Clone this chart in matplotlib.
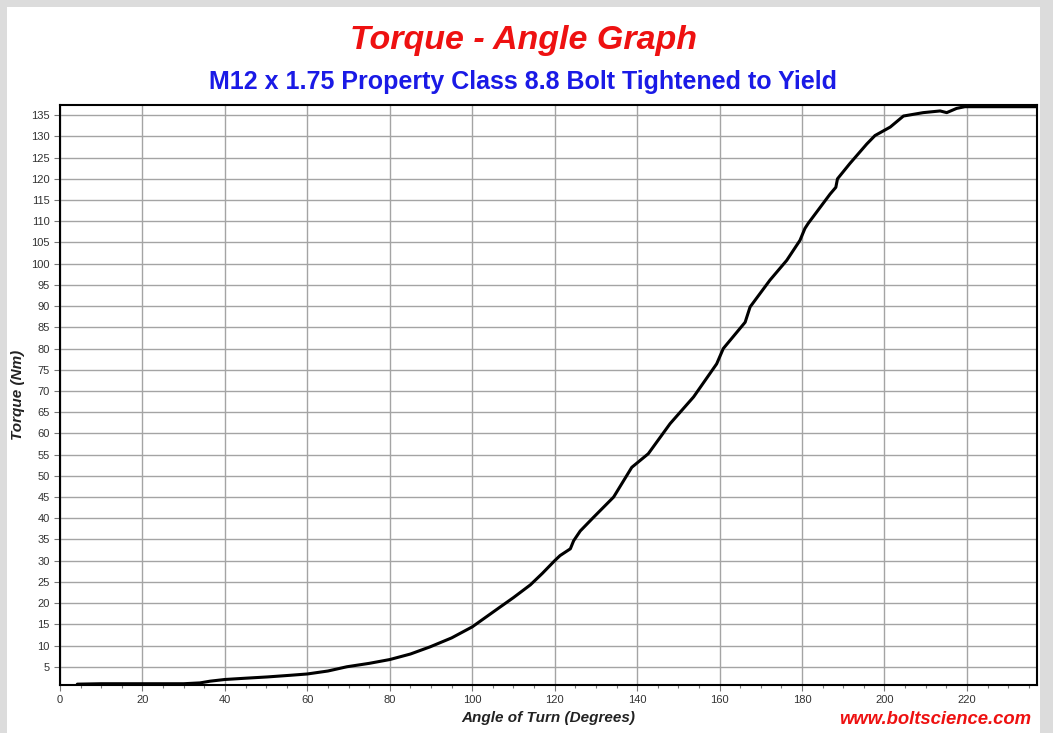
import matplotlib
matplotlib.use("Agg")
import matplotlib.pyplot as plt
from matplotlib.ticker import MultipleLocator
from matplotlib.patches import Rectangle

angle = [4.2, 10, 20, 30, 34, 36.4, 40, 45, 50.3, 56, 60, 65, 69.6, 75, 80, 85,
         89.8, 95, 100, 106.8, 110, 114.1, 117, 120, 121.3, 123.8, 124.6, 126.2,
         129.4, 134.3, 138.7, 142.7, 148, 153.7, 159.3, 160.9, 166.2, 167.4,
         172.2, 176.3, 179.5, 180.7, 181.5, 186.8, 188.2, 188.6, 191.6, 195.7,
         197.7, 201.4, 204.6, 209.4, 213.5, 215.1, 217.5, 219.5, 236.9]
torque = [0.9, 1.0, 1.0, 1.0, 1.2, 1.6, 2.0, 2.3, 2.6, 3.0, 3.3, 4.0, 5.0, 5.8,
          6.7, 8.0, 9.7, 11.8, 14.4, 19.1, 21.3, 24.3, 27.0, 30.0, 31.2, 32.8,
          34.7, 37.0, 40.2, 45.0, 52.0, 55.2, 62.3, 68.6, 76.4, 80.0, 86.2,
          89.8, 96.1, 100.8, 105.5, 108.3, 109.5, 116.4, 118.0, 120.0, 123.6,
          128.2, 130.2, 132.2, 134.8, 135.6, 136.0, 135.6, 136.6, 137.0, 137.0]

x_ticks = list(range(0, 221, 20))
y_ticks = list(range(5, 136, 5))

title = "Torque - Angle Graph"
subtitle = "M12 x 1.75 Property Class 8.8 Bolt Tightened to Yield"
xlabel = "Angle of Turn (Degrees)"
ylabel = "Torque (Nm)"
credit = "www.boltscience.com"

W, H = 1053, 733
fig = plt.figure(figsize=(W / 100, H / 100), dpi=100)
fig.patch.set_facecolor("#dcdcdc")
fig.patches.append(Rectangle((7 / W, 0), (1040 - 7) / W, (H - 7) / H,
                             transform=fig.transFigure, facecolor="white",
                             edgecolor="none", zorder=-10))

ax = fig.add_axes([60 / W, (H - 685) / H, (1037 - 60) / W, (685 - 105) / H])
ax.set_zorder(5)
ax.plot(angle, torque, color="black", lw=2.2, zorder=3,
        solid_joinstyle="round", solid_capstyle="round")
ax.set_xlim(0, 237)
ax.set_ylim(0.7, 137.4)
ax.set_xticks(x_ticks)
ax.set_yticks(y_ticks)
ax.xaxis.set_minor_locator(MultipleLocator(5))
ax.grid(True, which="major", color="#a4a4a4", lw=1.0)
ax.set_axisbelow(True)
for s in ax.spines.values():
    s.set_color("black")
    s.set_linewidth(1.5)
ax.tick_params(axis="both", which="major", labelsize=8, labelcolor="#333333",
               color="#777777", length=4, width=0.8, direction="out")
ax.tick_params(axis="x", which="minor", color="#777777", length=2.5, width=0.8,
               direction="out")
for lbl in ax.get_xticklabels() + ax.get_yticklabels():
    lbl.set_family("Liberation Sans")

ax.set_xlabel(xlabel, fontsize=11, fontweight="bold", fontstyle="italic",
              family="Liberation Sans", color="#222222", labelpad=4)
ax.set_ylabel(ylabel, fontsize=11, fontweight="bold", fontstyle="italic",
              family="Liberation Sans", color="#222222", labelpad=4)

fig.text(523 / W, 1 - 40 / H, title, color="#ee1111", fontsize=24.5,
         fontweight="bold", fontstyle="italic", family="Liberation Sans",
         ha="center", va="center")
fig.text(523 / W, 1 - 82 / H, subtitle, color="#1a1ae6", fontsize=18,
         fontweight="bold", family="Liberation Sans", ha="center", va="center")
fig.text(1031 / W, 1 - 720 / H, credit, color="#ee1111", fontsize=13.3,
         fontweight="bold", fontstyle="italic", family="Liberation Sans",
         ha="right", va="center")

fig.savefig("out.png", dpi=100, facecolor=fig.get_facecolor())
